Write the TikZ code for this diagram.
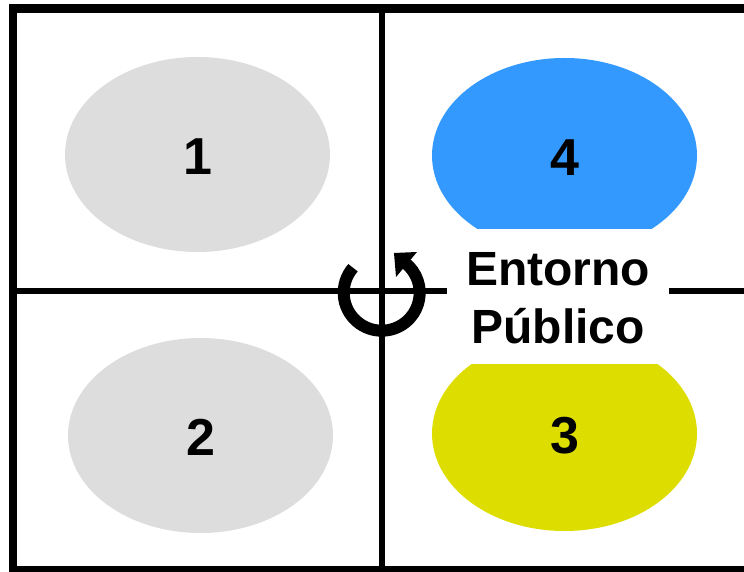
\documentclass[tikz,border=0pt]{standalone}
\usepackage{fontspec}
\setmainfont{Liberation Sans}
\usetikzlibrary{shapes.geometric}
\definecolor{cellgray}{HTML}{DDDDDD}
\definecolor{cellblue}{HTML}{3399FF}
\definecolor{cellyellow}{HTML}{DDDD00}
\begin{document}
\begin{tikzpicture}
[x=1pt,y=1pt,
cell/.style={ellipse,inner sep=0pt,minimum width=265pt,minimum height=195pt,text height=40pt,text depth=0pt,font=\fontsize{52}{52}\selectfont\bfseries},
rule/.style={line width=6pt},
frame/.style={line width=8.5pt}]

\useasboundingbox (0,0) rectangle (744,571);

% cells
\node[cell,fill=cellgray] (one) at (197.5,416.5) {1};
\node[cell,fill=cellgray] (two) at (200.5,135.5) {2};
\node[cell,fill=cellblue] (four) at (564.5,415.5) {4};
\node[cell,fill=cellyellow] (three) at (564.5,137.5) {3};

% frame and cross
\coordinate (topleft) at (13,562.5);
\coordinate (topright) at (750,562.5);
\coordinate (botleft) at (13,1);
\coordinate (botright) at (750,1);
\coordinate (midleft) at (13,279.5);
\coordinate (midright) at (744,279.5);
\coordinate (midtop) at (381.5,562.5);
\coordinate (midbot) at (381.5,1);
\draw[rule] (midleft) -- (midright);
\draw[rule] (midtop) -- (midbot);
\draw[frame] (topright) -- (topleft) -- (botleft) -- (botright);

% label box
\node[fill=white,inner sep=0pt,minimum width=222pt,minimum height=135pt] (gap) at (558,274.5) {};
\node[inner sep=0pt,align=center,font=\fontsize{48}{58}\selectfont\bfseries] (entorno) at ([yshift=-2pt]gap.center) {Entorno\\Público};

% turning arrow
\coordinate (pivot) at (381.7,278.3);
\draw[line width=12pt] (pivot) ++(139:38pt) arc (139:412:38pt);
\fill (394,318) -- (417,319) -- (396,294) -- cycle;
\end{tikzpicture}
\end{document}
